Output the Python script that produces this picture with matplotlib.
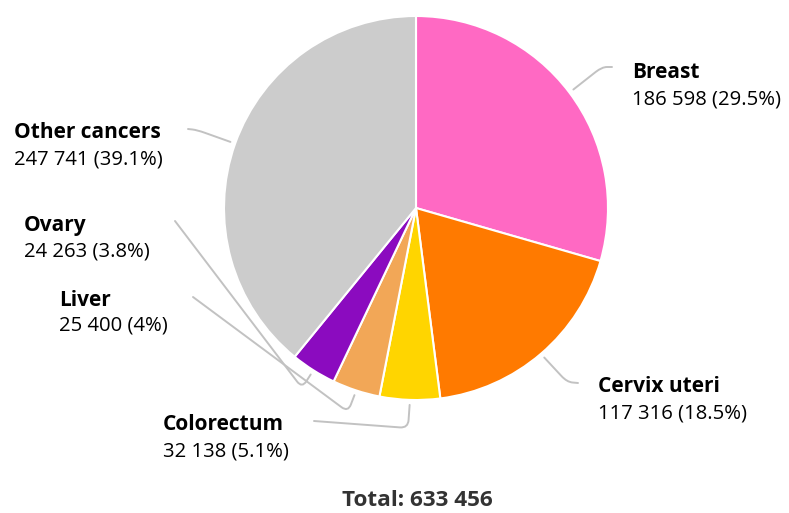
import numpy as np
import matplotlib
matplotlib.use("Agg")
import matplotlib.pyplot as plt
from matplotlib.path import Path
from matplotlib.patches import PathPatch

# Cancer incidence in women, by site
sites = ["Breast", "Cervix uteri", "Colorectum", "Liver", "Ovary", "Other cancers"]
cases = [186598, 117316, 32138, 25400, 24263, 247741]
shares = ["29.5%", "18.5%", "5.1%", "4%", "3.8%", "39.1%"]
colors = ["#ff69c3", "#ff7a00", "#ffd500", "#f2a757", "#8b0bbf", "#cccccc"]
total_label = "Total: 633 456"

W, H = 789, 513
fig = plt.figure(figsize=(W / 100, H / 100), dpi=100)
ax = fig.add_axes([0, 0, 1, 1])
ax.set_xlim(0, W)
ax.set_ylim(0, H)
ax.set_aspect("equal")
ax.axis("off")

plt.rcParams["font.family"] = ["Open Sans", "DejaVu Sans"]


def Y(y):
    return H - y


cx, cy, r = 416, 208, 192
ax.pie(cases, colors=colors, startangle=90, counterclock=False,
       center=(cx, Y(cy)), radius=r,
       wedgeprops=dict(edgecolor="white", linewidth=1.5))
ax.set_xlim(0, W)
ax.set_ylim(0, H)

# label layout: (crook point, end point, text x, name y, value y)
layout = {
    "Breast": ((602, 67), (612, 67), 632, 73, 99),
    "Cervix uteri": ((567, 382), (578, 383), 598, 387, 413),
    "Colorectum": ((408, 428), (314, 421), 163, 424, 451),
    "Liver": ((348, 412), (193, 297), 59, 300, 326),
    "Ovary": ((302, 388), (175, 221), 24, 226, 252),
    "Other cancers": ((197, 130), (188, 129), 14, 133, 160),
}

fracs = np.array(cases) / np.sum(cases)
mids = 90 - 360 * (np.cumsum(fracs) - fracs / 2)


def rounded(p0, p1, p2, rad=8):
    p0, p1, p2 = map(np.asarray, (p0, p1, p2))
    d1 = p0 - p1
    d2 = p2 - p1
    a = p1 + d1 / np.linalg.norm(d1) * min(rad, np.linalg.norm(d1) / 2)
    b = p1 + d2 / np.linalg.norm(d2) * min(rad, np.linalg.norm(d2) / 2)
    verts = [p0, a, p1, b, p2]
    codes = [Path.MOVETO, Path.LINETO, Path.CURVE3, Path.CURVE3, Path.LINETO]
    return Path([(x, Y(y)) for x, y in verts], codes)


for name, n, share, mid in zip(sites, cases, shares, mids):
    crook, end, tx, ny, vy = layout[name]
    t = np.deg2rad(mid)
    start = (cx + (r + 5) * np.cos(t), cy - (r + 5) * np.sin(t))
    ax.add_patch(PathPatch(rounded(start, crook, end), fill=False,
                           edgecolor="#c2c2c2", linewidth=1.4,
                           capstyle="round", joinstyle="round"))
    ax.text(tx, Y(ny), name, fontsize=15, fontweight="bold",
            color="black", ha="left", va="center")
    ax.text(tx, Y(vy), f"{n:,}".replace(",", " ") + f" ({share})",
            fontsize=14.6, color="black", ha="left", va="center")

ax.text(417, Y(500), total_label, fontsize=16.2, fontweight="bold",
        color="#333333", ha="center", va="center")

fig.savefig("out.png", dpi=100)
